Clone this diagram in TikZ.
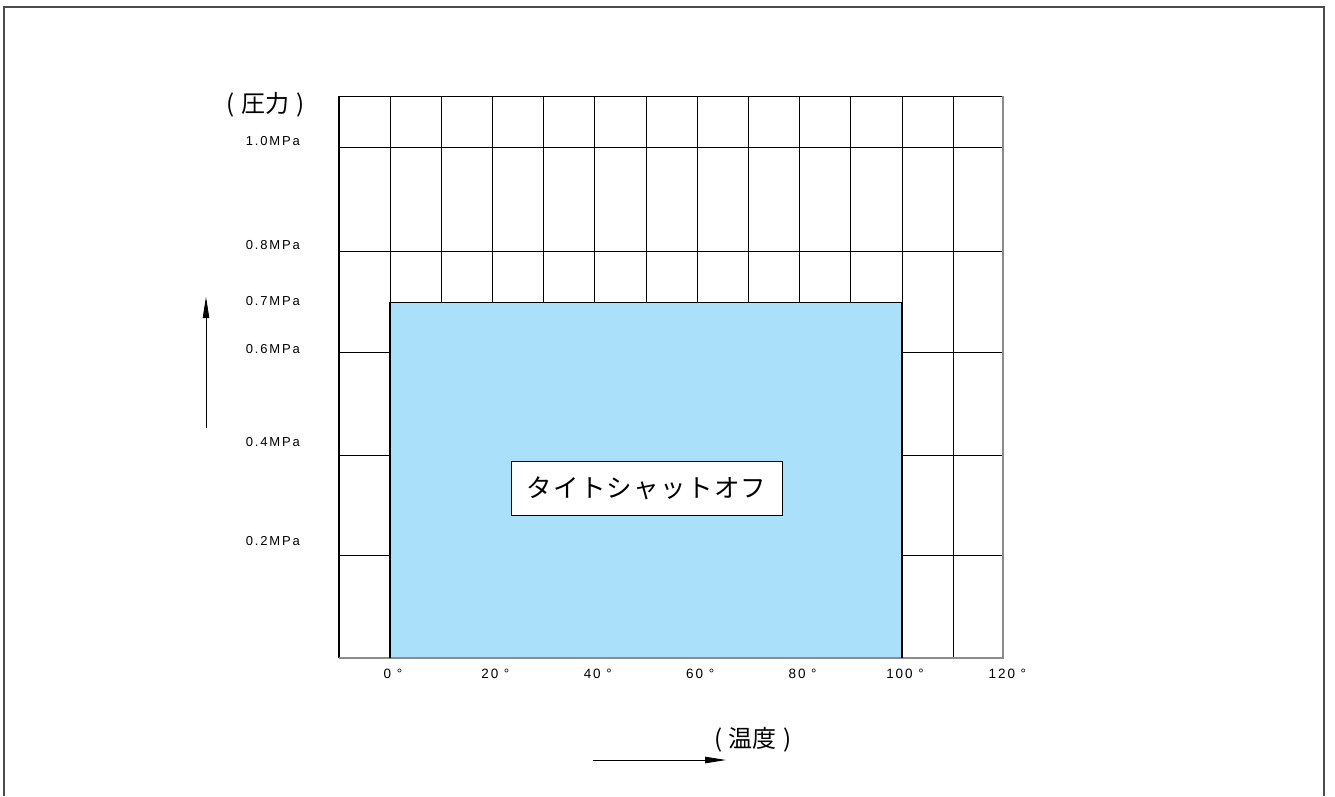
\documentclass[tikz,border=0pt]{standalone}
\usepackage{fontspec}
\setmainfont{Liberation Sans}
\newfontfamily\scalefont[LetterSpace=14]{Liberation Sans}
\newfontfamily\jpfont{Noto Sans CJK JP}
\newfontfamily\jpwide[LetterSpace=5]{Noto Sans CJK JP}
\usetikzlibrary{arrows.meta}
\definecolor{shutblue}{HTML}{ABE0FA}

\begin{document}
\begin{tikzpicture}[x=1pt,y=-1pt,
    grid line/.style={line width=0.8pt},
    mpa/.style={anchor=east,inner sep=0pt,font=\scalefont\fontsize{13}{15}\selectfont},
    deg/.style={inner sep=0pt,font=\scalefont\fontsize{13.5}{15}\selectfont},
    axis title/.style={inner sep=0pt,font=\jpfont\fontsize{24}{28}\selectfont},
    axis arrow/.style={line width=0.8pt,-{Triangle[length=21pt,width=6.5pt]}}]
    \useasboundingbox (0,0) rectangle (1335,796);
    % frame
    \draw [line width=1.5pt,black!70] (4,796) -- (4,7) -- (1324,7) -- (1324,796);
    % grid
    \foreach \k in {0,...,12}
      \draw [grid line] ({338.8+51.2*\k},96) -- ({338.8+51.2*\k},658);
    \foreach \yy in {147,251,352,455,555}
      \draw [grid line] (339,\yy) -- (1003,\yy);
    \draw [grid line] (339,658) -- (339,96) -- (1003,96);
    \draw [line width=1.3pt,black!45] (339,658) -- (1003,658) -- (1003,96);
    % shut-off region
    \fill [shutblue] (390,302) rectangle (902,657);
    \draw [line width=1pt] (390,302) -- (902,302);
    \draw [line width=1.8pt] (390,658) -- (390,302);
    \draw [line width=1.8pt] (902,658) -- (902,302);
    \node [draw,fill=white,line width=0.8pt,minimum width=271pt,minimum height=54pt,
           font=\jpwide\fontsize{25.5}{30}\selectfont] (shutoff) at (646.5,488) {タイトシャットオフ};
    % pressure axis
    \foreach \p/\yy in {10/141,08/245,07/301,06/349,04/442,02/541}
      \node [mpa] (p\p) at (300,\yy) {\ifnum\p=10 1.0\else 0.\number\p\fi MPa};
    \node [axis title] (ptitle) at (265.5,105) {(\;圧力\;)};
    \coordinate (pfoot) at (206,428);
    \coordinate (ptip) at (206,297);
    \draw [axis arrow] (pfoot) -- (ptip);
    % temperature axis
    \foreach \t [count=\i from 0] in {0,20,40,60,80,100,120}
      \node [deg] (t\t) at ({393+102.4*\i},674) {\t\ °};
    \node [axis title] (ttitle) at (753,740) {(\;温度\;)};
    \coordinate (tfoot) at (593,760);
    \coordinate (ttip) at (726,760);
    \draw [axis arrow] (tfoot) -- (ttip);
\end{tikzpicture}
\end{document}
